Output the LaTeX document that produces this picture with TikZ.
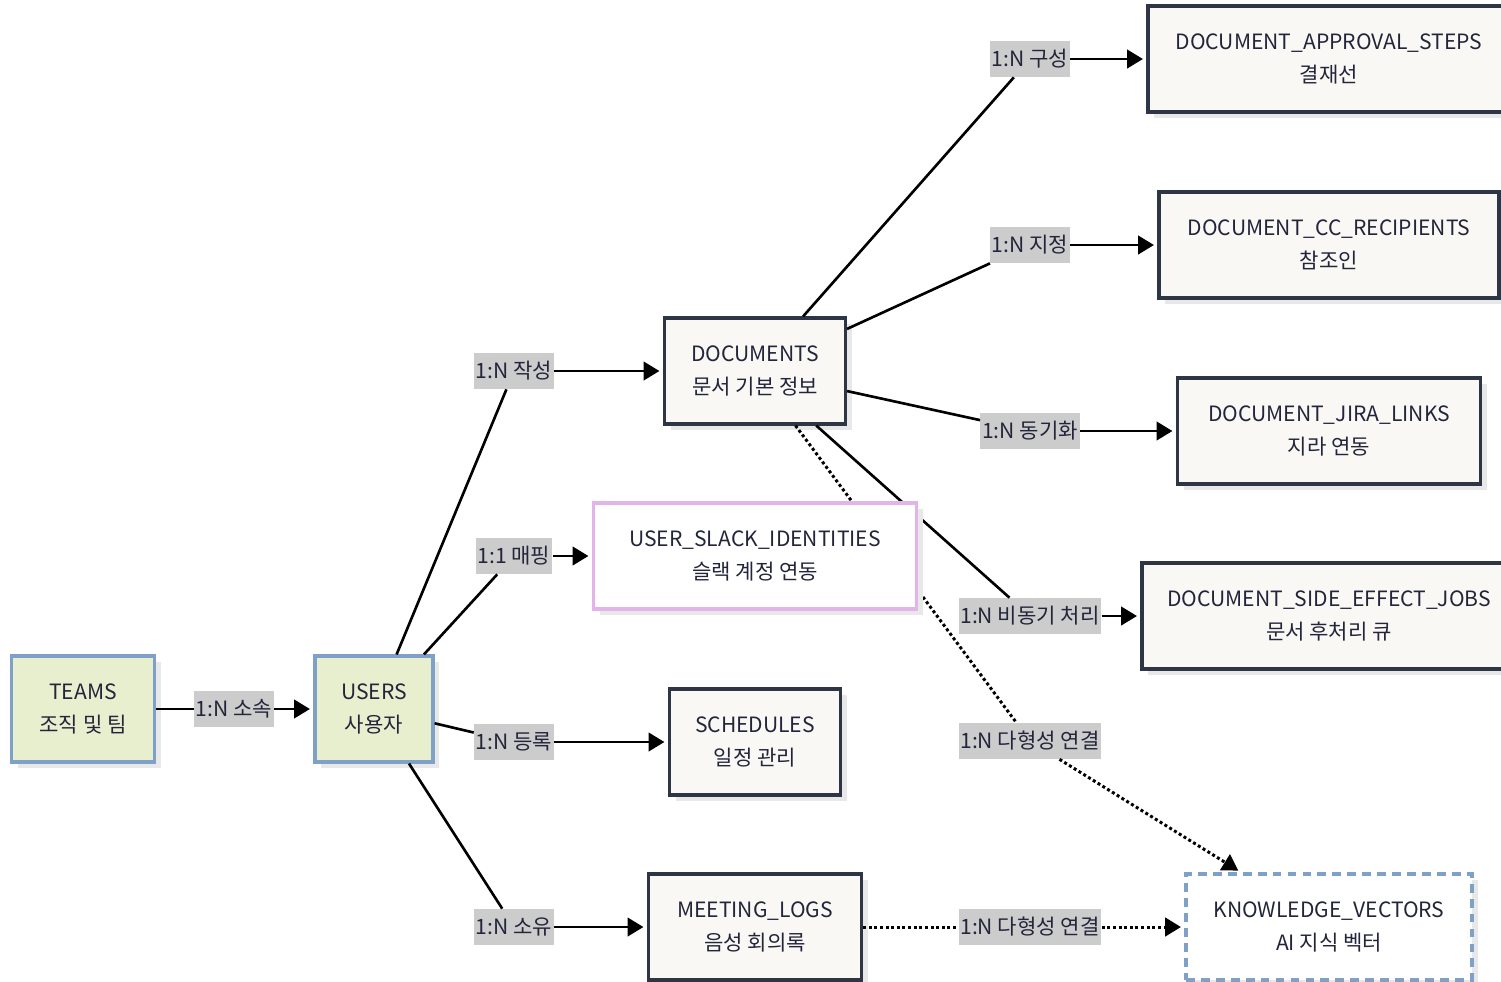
\documentclass[tikz,border=0pt]{standalone}
\usepackage{fontspec}
\setmainfont{Noto Sans CJK KR}
\usetikzlibrary{arrows.meta,shadows}
\definecolor{inkc}{HTML}{23253A}
\definecolor{teamfill}{HTML}{E8EFCF}
\definecolor{teamline}{HTML}{7FA1C8}
\definecolor{docfill}{HTML}{F9F8F4}
\definecolor{docline}{HTML}{2E3646}
\definecolor{slackline}{HTML}{E2B5E8}
\tikzset{
	tbl/.style={draw, line width=1.8pt, align=center, text=inkc, minimum height=2.12cm, inner sep=0pt,
		font=\fontsize{12}{18.7}\selectfont,
		drop shadow={shadow xshift=3.5pt, shadow yshift=-3.5pt, fill=black!9, opacity=1}},
	coretbl/.style={tbl, fill=docfill, draw=docline},
	orgtbl/.style={tbl, fill=teamfill, draw=teamline},
	linktbl/.style={tbl, fill=white, draw=slackline},
	vectbl/.style={tbl, fill=white, draw=teamline, dash pattern=on 5pt off 3.5pt},
	rel/.style={fill=gray!40, text=inkc, inner xsep=1pt, inner ysep=0pt, minimum height=0.72cm,
		font=\fontsize{12}{14}\selectfont},
	link/.style={line width=1.5pt},
	linkto/.style={link, -{Triangle[length=9pt,width=10.5pt]}, shorten >=2pt},
	poly/.style={line width=1.7pt, dash pattern=on 1.7pt off 1.5pt}
}
\begin{document}
\begin{tikzpicture}[x=0.02cm, y=-0.02cm]
	\useasboundingbox (0,0) rectangle (1501,981);
	% tabelle
	\node[orgtbl, minimum width=2.86cm] (teams) at (83,709) {TEAMS\\조직 및 팀};
	\node[orgtbl, minimum width=2.36cm] (users) at (374,709) {USERS\\사용자};
	\node[coretbl, minimum width=3.62cm] (documents) at (755,371) {DOCUMENTS\\문서 기본 정보};
	\node[coretbl, minimum width=3.42cm] (schedules) at (755,742) {SCHEDULES\\일정 관리};
	\node[coretbl, minimum width=4.26cm] (meetings) at (755,927) {MEETING\_LOGS\\음성 회의록};
	\node[coretbl, minimum width=7.24cm] (approval) at (1329,59) {DOCUMENT\_APPROVAL\_STEPS\\결재선};
	\node[coretbl, minimum width=6.80cm] (cc) at (1329,245) {DOCUMENT\_CC\_RECIPIENTS\\참조인};
	\node[coretbl, minimum width=6.06cm] (jira) at (1329,431) {DOCUMENT\_JIRA\_LINKS\\지라 연동};
	\node[coretbl, minimum width=7.48cm] (sidefx) at (1329,616) {DOCUMENT\_SIDE\_EFFECT\_JOBS\\문서 후처리 큐};
	\node[vectbl, minimum width=5.72cm] (vectors) at (1329,927) {KNOWLEDGE\_VECTORS\\AI 지식 벡터};
	
	% relazioni
	\node[rel] (r-belong) at (234,709) {1:N 소속};
	\node[rel] (r-write) at (514,371) {1:N 작성};
	\node[rel] (r-map) at (514,556) {1:1 매핑};
	\node[rel] (r-reg) at (514,742) {1:N 등록};
	\node[rel] (r-own) at (514,927) {1:N 소유};
	\node[rel] (r-compose) at (1030,59) {1:N 구성};
	\node[rel] (r-assign) at (1030,245) {1:N 지정};
	\node[rel] (r-sync) at (1030,431) {1:N 동기화};
	\node[rel] (r-async) at (1030,616) {1:N 비동기 처리};
	\node[rel] (r-poly1) at (1030,741) {1:N 다형성 연결};
	\node[rel] (r-poly2) at (1030,927) {1:N 다형성 연결};
	
	\draw[link] (teams) -- (r-belong);   \draw[linkto] (r-belong) -- (users);
	\draw[link] (users) -- (r-write);    \draw[linkto] (r-write) -- (documents);
	\draw[link] (users) -- (r-reg);      \draw[linkto] (r-reg) -- (schedules);
	\draw[link] (users) -- (r-own);      \draw[linkto] (r-own) -- (meetings);
	\draw[link] (documents) -- (r-compose); \draw[linkto] (r-compose) -- (approval);
	\draw[link] (documents) -- (r-assign);  \draw[linkto] (r-assign) -- (cc);
	\draw[link] (documents) -- (r-sync);    \draw[linkto] (r-sync) -- (jira);
	\draw[link] (documents) -- (r-async);   \draw[linkto] (r-async) -- (sidefx);
	\draw[link, poly] (documents) -- (r-poly1); \draw[linkto, poly] (r-poly1) -- (vectors);
	\draw[link, poly] (meetings) -- (r-poly2);  \draw[linkto, poly] (r-poly2) -- (vectors);
	
	% sopra le linee dei documenti
	\node[linktbl, minimum width=6.46cm] (slack) at (755,556) {USER\_SLACK\_IDENTITIES\\슬랙 계정 연동};
	\draw[link] (users) -- (r-map);      \draw[linkto] (r-map) -- (slack);
\end{tikzpicture}
\end{document}
